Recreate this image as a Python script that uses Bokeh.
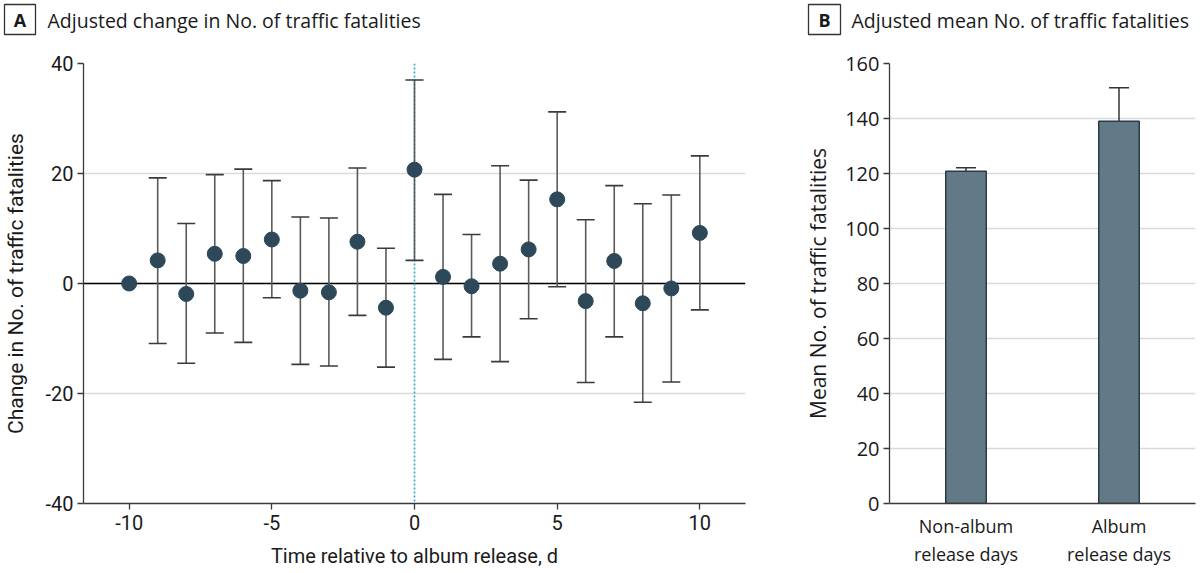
import math
from bokeh.plotting import figure
from bokeh.models import (ColumnDataSource, Whisker, TeeHead, Span,
                          FixedTicker, Range1d, FactorRange)
from bokeh.layouts import row, column
from bokeh.core.properties import value
from bokeh.embed import file_html
from bokeh.resources import INLINE

nan = float("nan")

# ---- Panel A data ----
days = list(range(-10, 11))
change = [0.0, 4.2, -1.9, 5.4, 5.0, 8.0, -1.3, -1.6, 7.6, -4.4, 20.7,
          1.2, -0.5, 3.6, 6.2, 15.3, -3.2, 4.1, -3.6, -0.9, 9.2]
ci_low = [nan, -10.9, -14.5, -9.0, -10.7, -2.6, -14.7, -15.0, -5.8, -15.2, 4.2,
          -13.8, -9.7, -14.2, -6.4, -0.6, -18.0, -9.7, -21.6, -17.9, -4.8]
ci_high = [nan, 19.2, 10.9, 19.8, 20.8, 18.7, 12.1, 11.9, 21.0, 6.4, 37.0,
           16.2, 8.9, 21.4, 18.8, 31.2, 11.6, 17.8, 14.5, 16.1, 23.2]
x_ticks_a = [-10, -5, 0, 5, 10]
y_ticks_a = [-40, -20, 0, 20, 40]

# ---- Panel B data ----
groups = ["Non-album\nrelease days", "Album\nrelease days"]
means = [120.8, 139.0]
mean_low = [119.4, 126.7]
mean_high = [122.1, 151.2]
y_ticks_b = [0, 20, 40, 60, 80, 100, 120, 140, 160]

# ---- Panel headers ----
panel_letters = ["A", "B"]
panel_titles = ["Adjusted change in No. of traffic fatalities",
                "Adjusted mean No. of traffic fatalities"]

TXT = "#1a1a1a"
AX = "#3a3a3a"
GRID = "#dadada"
FONT_A = "Roboto"
FONT_B = "Open Sans"

# ================= Header strip =================
hdr = figure(width=1200, height=40, x_range=Range1d(0, 1200), y_range=Range1d(40, 0),
             x_axis_type=None, y_axis_type=None, output_backend="svg",
             toolbar_location=None, min_border=0)
hdr.outline_line_color = None
hdr.grid.visible = False
box_left = [4, 808]
box_right = [35, 840]
title_x = [47, 851]
hdr.quad(left=box_left, right=box_right, top=[4, 4], bottom=[34, 34],
         fill_color=None, line_color="#333333", line_width=1.3)
hdr.text(x=[(l + r) / 2 for l, r in zip(box_left, box_right)], y=[19.5, 19.5],
         text=panel_letters, text_font=value(FONT_B), text_font_style="bold",
         text_font_size="18px", text_color=TXT, text_align="center",
         text_baseline="middle")
hdr.text(x=title_x, y=[19.5, 19.5], text=panel_titles, text_font=value(FONT_B),
         text_font_size="19.5px", text_color=TXT, text_align="left",
         text_baseline="middle")

# ================= Panel A =================
pA = figure(width=780, height=533, x_range=Range1d(-11.6, 11.6), y_range=Range1d(-40, 40),
            output_backend="svg", toolbar_location=None,
            min_border_left=83, min_border_right=35, min_border_top=23, min_border_bottom=70)
pA.outline_line_color = None
pA.xgrid.visible = False
pA.ygrid.grid_line_color = GRID
pA.ygrid.grid_line_width = 1.5
pA.ygrid.ticker = FixedTicker(ticks=y_ticks_a)
pA.xaxis.ticker = FixedTicker(ticks=x_ticks_a)
pA.yaxis.ticker = FixedTicker(ticks=y_ticks_a)
pA.xaxis.major_label_overrides = {t: str(t) for t in x_ticks_a}
pA.yaxis.major_label_overrides = {t: str(t) for t in y_ticks_a}
for ax in (pA.xaxis[0], pA.yaxis[0]):
    ax.axis_line_color = AX
    ax.axis_line_width = 1.3
    ax.major_tick_line_color = AX
    ax.major_tick_line_width = 1.3
    ax.minor_tick_line_color = None
    ax.major_tick_in = 0
    ax.major_tick_out = 6
    ax.major_label_text_font = FONT_A
    ax.major_label_text_font_size = "20px"
    ax.major_label_text_color = TXT
    ax.axis_label_text_font = FONT_A
    ax.axis_label_text_font_size = "20px"
    ax.axis_label_text_font_style = "normal"
    ax.axis_label_text_color = TXT
pA.yaxis.axis_label_text_font_size = "21px"
pA.xaxis.axis_label = "Time relative to album release, d"
pA.yaxis.axis_label = "Change in No. of traffic fatalities"
pA.xaxis.major_label_standoff = 5
pA.xaxis.axis_label_standoff = 11
pA.yaxis.major_label_standoff = 4
pA.yaxis.axis_label_standoff = 14

pA.add_layout(Span(location=0, dimension="width", line_color="black",
                   line_width=1.3, level="underlay"))
pA.add_layout(Span(location=0, dimension="height", line_color="#2aa8c8",
                   line_width=1.6, line_dash="2 2", level="underlay"))

wd = [d for d, lo in zip(days, ci_low) if not math.isnan(lo)]
wl = [lo for lo in ci_low if not math.isnan(lo)]
wh = [hi for hi in ci_high if not math.isnan(hi)]
wsrc = ColumnDataSource(dict(x=wd, lower=wl, upper=wh))
pA.add_layout(Whisker(source=wsrc, base="x", lower="lower", upper="upper",
                      dimension="height", line_color="#5a5a5a", line_width=1.6,
                      upper_head=TeeHead(size=18, line_color="#3a3a3a", line_width=1.6),
                      lower_head=TeeHead(size=18, line_color="#3a3a3a", line_width=1.6),
                      level="underlay"))
pA.scatter(x=days, y=change, size=15, color="#2d4858")

# ================= Panel B =================
pB = figure(width=420, height=533, x_range=FactorRange(factors=groups, range_padding=0),
            y_range=Range1d(0, 160), output_backend="svg", toolbar_location=None,
            min_border_left=109, min_border_right=5, min_border_top=23, min_border_bottom=70)
pB.outline_line_color = None
pB.xgrid.visible = False
pB.ygrid.grid_line_color = GRID
pB.ygrid.grid_line_width = 1.5
pB.yaxis.ticker = FixedTicker(ticks=y_ticks_b)
for ax in (pB.xaxis[0], pB.yaxis[0]):
    ax.axis_line_color = AX
    ax.axis_line_width = 1.3
    ax.major_tick_line_color = AX
    ax.major_tick_line_width = 1.3
    ax.minor_tick_line_color = None
    ax.major_tick_in = 0
    ax.major_tick_out = 6
    ax.major_label_text_font = FONT_B
    ax.major_label_text_font_size = "20px"
    ax.major_label_text_color = TXT
    ax.axis_label_text_font = FONT_B
    ax.axis_label_text_font_size = "21px"
    ax.axis_label_text_font_style = "normal"
    ax.axis_label_text_color = TXT
pB.xaxis.major_tick_out = 0
pB.xaxis.major_label_text_font_size = "18px"
pB.xaxis.major_label_standoff = 10
pB.yaxis.axis_label = "Mean No. of traffic fatalities"
pB.yaxis.major_label_standoff = 4
pB.yaxis.axis_label_standoff = 10

pB.vbar(x=groups, top=means, width=0.265, fill_color="#627987",
        line_color="#2b3a44", line_width=1.5)
bsrc = ColumnDataSource(dict(x=groups, lower=mean_low, upper=mean_high))
pB.add_layout(Whisker(source=bsrc, base="x", lower="lower", upper="upper",
                      dimension="height", line_color="#333333", line_width=1.5,
                      upper_head=TeeHead(size=20, line_color="#333333", line_width=1.5),
                      lower_head=TeeHead(size=20, line_color="#333333", line_width=1.5)))

layout = column(hdr, row(pA, pB))
open("out.html", "w").write(file_html(layout, INLINE))
